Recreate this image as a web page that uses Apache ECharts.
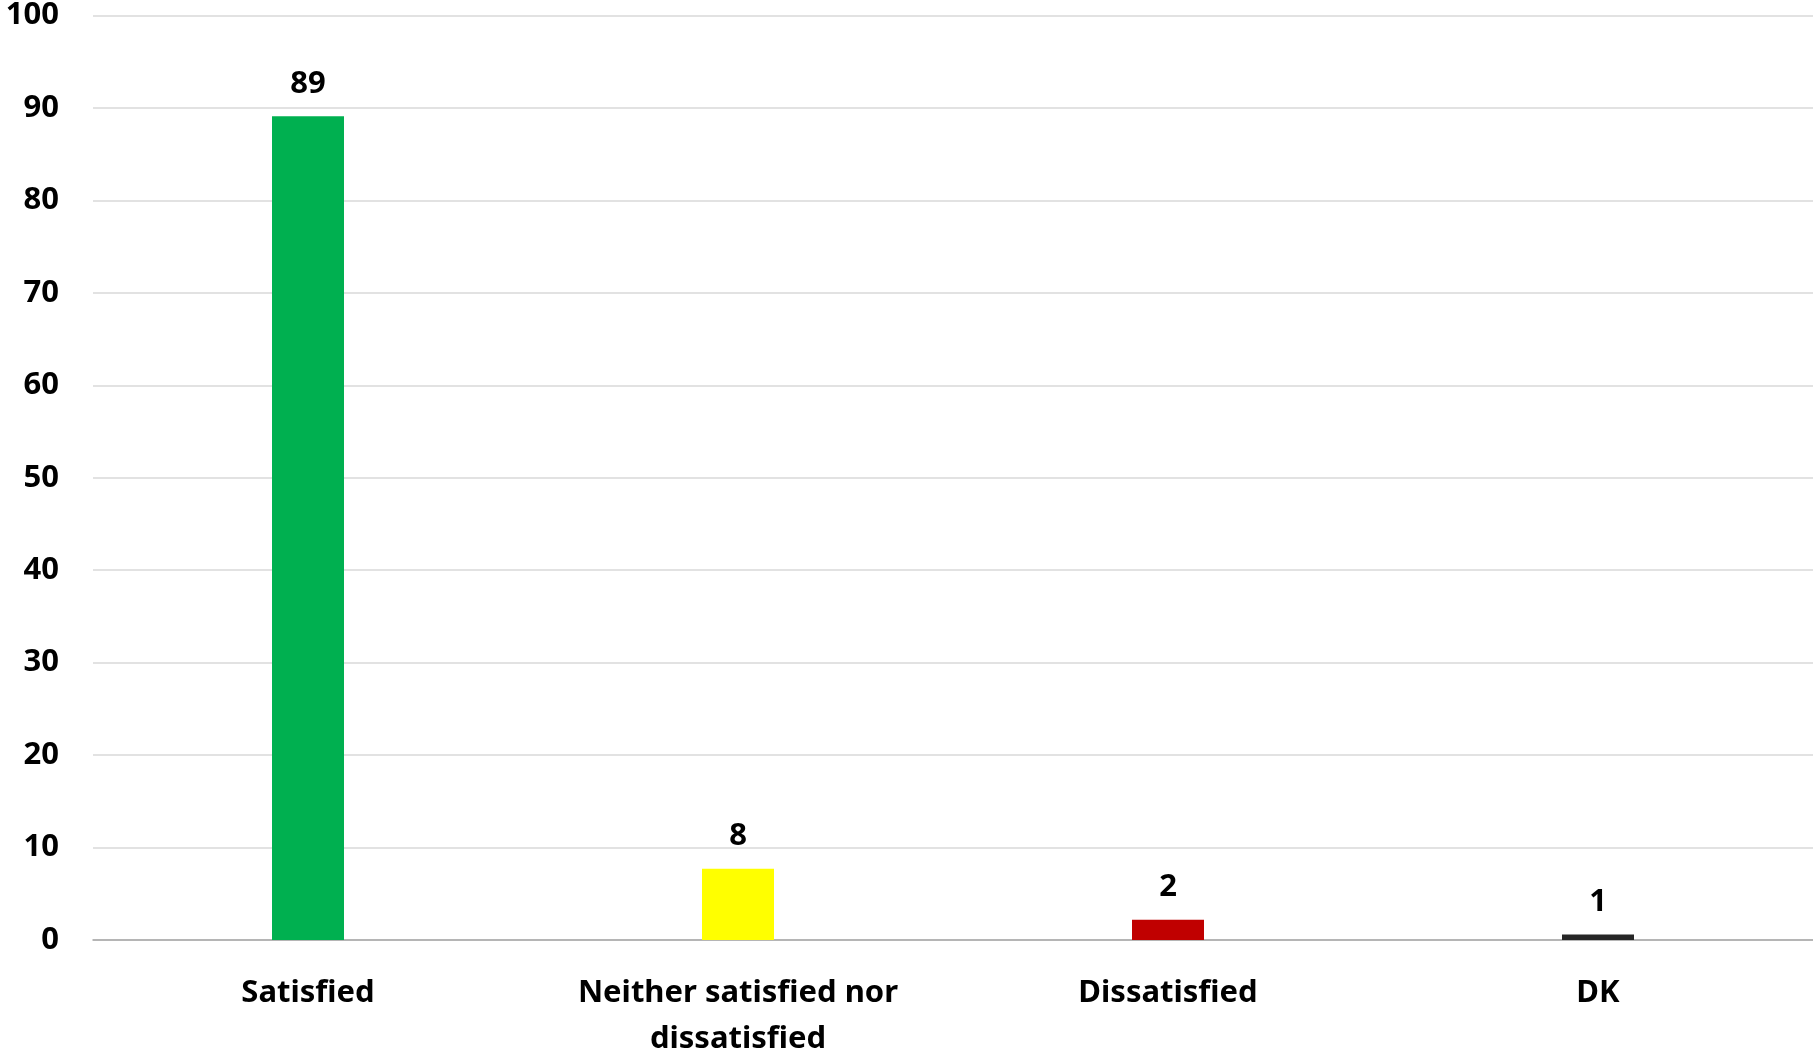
<!DOCTYPE html>
<html><head><meta charset="utf-8">
<script src="https://cdn.jsdelivr.net/npm/echarts@6/dist/echarts.min.js"></script>
<style>html,body{margin:0;padding:0;background:#fff}#c{width:1813px;height:1053px}</style>
</head><body><div id="c"></div>
<script>
const categories = ["Satisfied", "Neither satisfied nor\ndissatisfied", "Dissatisfied", "DK"];
const values = [89.1, 7.7, 2.2, 0.6];
const colors = ["#00B050", "#FFFF00", "#C00000", "#262626"];
const yTicks = [0, 100, 10];

const FONT = "'Noto Sans', sans-serif";
const chart = echarts.init(document.getElementById('c'));
chart.setOption({
  animation: false,
  grid: { left: 93, right: 0, top: 15.5, bottom: 113, containLabel: false, outerBoundsMode: 'none' },
  xAxis: {
    type: 'category', data: categories,
    axisLine: { lineStyle: { color: '#a6a6a6', width: 1.5 } },
    axisTick: { show: false },
    axisLabel: { color: '#000', fontWeight: 'bold', fontSize: 31, fontFamily: FONT, margin: 30, lineHeight: 46, interval: 0 }
  },
  yAxis: {
    type: 'value', min: yTicks[0], max: yTicks[1], interval: yTicks[2],
    axisLine: { show: false }, axisTick: { show: false },
    splitLine: { lineStyle: { color: '#d9d9d9', width: 1.5 } },
    axisLabel: { color: '#000', fontWeight: 'bold', fontSize: 31, fontFamily: FONT, margin: 34 }
  },
  series: [{
    type: 'bar', barWidth: 72,
    data: values.map((v, i) => ({ value: v, itemStyle: { color: colors[i] } })),
    label: { show: true, position: 'top', distance: 17, color: '#000', fontWeight: 'bold', fontSize: 31, fontFamily: FONT,
      formatter: p => Math.round(p.value) }
  }]
});
</script></body></html>
